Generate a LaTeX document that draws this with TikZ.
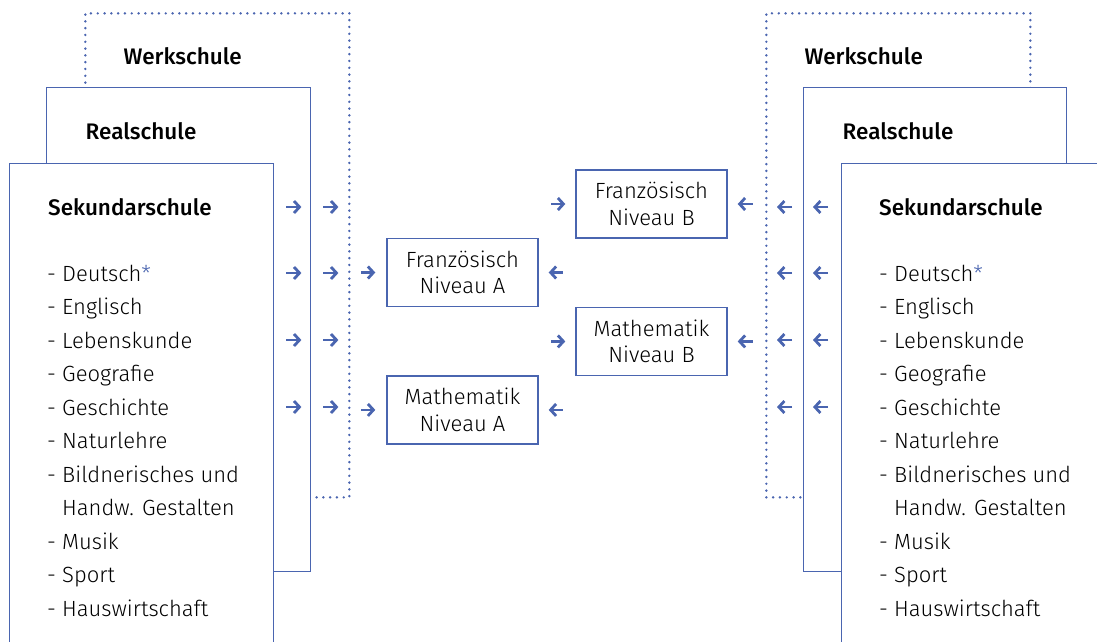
\documentclass[tikz,border=0pt]{standalone}
\usepackage{fontspec}
\setmainfont{Fira Sans}[UprightFont=* Light, BoldFont=* Medium]
\usepackage{tikz}
\usetikzlibrary{arrows.meta,calc,positioning}
\definecolor{schulblau}{RGB}{74,101,176}
\newcommand{\faecher}{- Deutsch{\color{schulblau}*}\\- Englisch\\- Lebenskunde\\- Geografie\\- Geschichte\\- Naturlehre\\- Bildnerisches und\\\phantom{- }Handw. Gestalten\\- Musik\\- Sport\\- Hauswirtschaft}

\begin{document}
\begin{tikzpicture}[x=1pt,y=-1pt]
\tikzstyle{schul}=[rectangle, draw=schulblau, line width=1.4pt, fill=white, anchor=north west, inner sep=0pt, minimum width=264pt, minimum height=484pt]
\tikzstyle{werk}=[schul, line width=2.7pt, dash pattern=on 0pt off 6.8pt, line cap=round]
\tikzstyle{titel}=[anchor=base west, inner sep=0pt, font=\fontsize{22.5pt}{27pt}\selectfont\bfseries]
\tikzstyle{liste}=[anchor=base west, inner sep=0pt, align=left, font=\fontsize{22pt}{33.5pt}\selectfont]
\tikzstyle{niveau}=[rectangle, draw=schulblau, line width=1.4pt, minimum width=151pt, minimum height=68pt, inner sep=0pt, align=center, font=\fontsize{22pt}{26.5pt}\selectfont]
\tikzstyle{pfeil}=[-{Straight Barb[length=5.5pt,width=12pt]}, draw=schulblau, line width=2.8pt]

  \useasboundingbox (0,0) rectangle (1097,641);

  % linke Seite
  \node[werk]  (werkL) at (84,12)  {};
  \node[schul] (realL) at (46,87)  {};
  \node[schul, minimum width=264.5pt, minimum height=500pt] (sekL) at (8.5,163) {};

  \node[titel] (werkLt) at ([xshift=39.5pt, yshift=-52pt]werkL.north west) {Werkschule};
  \node[titel] (realLt) at ([xshift=39.5pt, yshift=-52pt]realL.north west) {Realschule};
  \node[titel] (sekLt)  at ([xshift=39.5pt, yshift=-52pt]sekL.north west)  {Sekundarschule};
  % base = Grundlinie der letzten Zeile
  \node[liste] (listeL) at ([xshift=38.5pt, yshift=-453pt]sekL.north west) {\faecher};

  % rechte Seite
  \node[werk]  (werkR) at (765,12) {};
  \node[schul, minimum width=263pt] (realR) at (803,87) {};
  \node[schul, minimum width=300pt, minimum height=500pt] (sekR) at (841,163) {};

  \node[titel] (werkRt) at ([xshift=39.5pt, yshift=-52pt]werkR.north west) {Werkschule};
  \node[titel] (realRt) at ([xshift=39.5pt, yshift=-52pt]realR.north west) {Realschule};
  \node[titel] (sekRt)  at ([xshift=38pt, yshift=-52pt]sekR.north west)   {Sekundarschule};
  \node[liste] (listeR) at ([xshift=38pt, yshift=-453pt]sekR.north west)  {\faecher};

  % Niveaus
  \node[niveau] (fa) at (462.5,272.5)   {Französisch\\Niveau A};
  \node[niveau] (ma) [below=68pt of fa] {Mathematik\\Niveau A};
  \node[niveau] (fb) at (651.5,204)     {Französisch\\Niveau B};
  \node[niveau] (mb) [below=68pt of fb] {Mathematik\\Niveau B};

  \coordinate (z1) at (0,207);
  \coordinate (z2) at (0,273);
  \coordinate (z3) at (0,340);
  \coordinate (z4) at (0,407);

  \foreach \i in {1,...,4} {
    \draw[pfeil] ($(sekL.east |- z\i)+(12,0)$) -- ++(15,0);
    \draw[pfeil] ($(realL.east |- z\i)+(12,0)$) -- ++(15,0);
    \draw[pfeil] ($(realR.west |- z\i)+(-11,0)$) -- ++(-15,0);
    \draw[pfeil] ($(sekR.west |- z\i)+(-13,0)$) -- ++(-15,0);
  }

  \foreach \n in {fa,ma} {
    \draw[pfeil] ([xshift=-25pt]\n.west) -- ([xshift=-11pt]\n.west);
    \draw[pfeil] ([xshift=24pt]\n.east) -- ([xshift=10pt]\n.east);
  }
  \foreach \n in {fb,mb} {
    \draw[pfeil] ([xshift=-24pt]\n.west) -- ([xshift=-10pt]\n.west);
    \draw[pfeil] ([xshift=25pt]\n.east) -- ([xshift=10pt]\n.east);
  }

\end{tikzpicture}
\end{document}
